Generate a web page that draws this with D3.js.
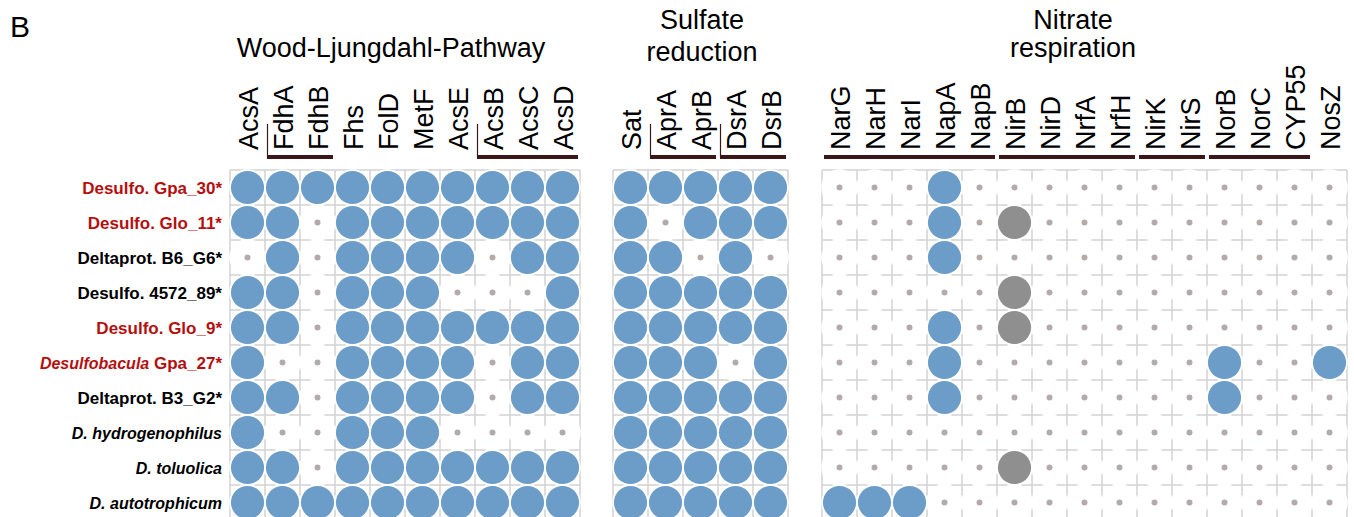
<!DOCTYPE html>
<html>
<head>
<meta charset="utf-8">
<script src="https://cdn.jsdelivr.net/npm/d3@7"></script>
<style>
  html, body { margin: 0; padding: 0; background: #fff; }
  svg { display: block; font-family: "Liberation Sans", Arial, Helvetica, sans-serif; }
</style>
</head>
<body>
<svg id="chart" width="1354" height="517"></svg>
<script>
// Genomes (rows), top to bottom
const species = [
  "Desulfo. Gpa_30*", "Desulfo. Glo_11*", "Deltaprot. B6_G6*", "Desulfo. 4572_89*",
  "Desulfo. Glo_9*", "Desulfobacula Gpa_27*", "Deltaprot. B3_G2*",
  "D. hydrogenophilus", "D. toluolica", "D. autotrophicum"
];
// label colour class: 1 = red (new genome), 0 = black
const speciesRed = [1, 1, 0, 0, 1, 1, 0, 0, 0, 0];
// italic part of each label ("" = none)
const speciesItalic = ["", "", "", "", "", "Desulfobacula", "", "D. hydrogenophilus", "D. toluolica", "D. autotrophicum"];

// Gene columns per pathway
const genesWL = ["AcsA", "FdhA", "FdhB", "Fhs", "FolD", "MetF", "AcsE", "AcsB", "AcsC", "AcsD"];
const genesSR = ["Sat", "AprA", "AprB", "DsrA", "DsrB"];
const genesNR = ["NarG", "NarH", "NarI", "NapA", "NapB", "NirB", "NirD", "NrfA", "NrfH",
                 "NirK", "NirS", "NorB", "NorC", "CYP55", "NosZ"];

// Presence per genome: 1 = present, 0 = absent, 2 = present (grey category)
const presenceWL = [
  [1,1,1,1,1,1,1,1,1,1],
  [1,1,0,1,1,1,1,1,1,1],
  [0,1,0,1,1,1,1,0,1,1],
  [1,1,0,1,1,1,0,0,0,1],
  [1,1,0,1,1,1,1,1,1,1],
  [1,0,0,1,1,1,1,0,1,1],
  [1,1,0,1,1,1,1,0,1,1],
  [1,0,0,1,1,1,0,0,0,0],
  [1,1,0,1,1,1,1,1,1,1],
  [1,1,1,1,1,1,1,1,1,1]
];
const presenceSR = [
  [1,1,1,1,1],
  [1,0,1,1,1],
  [1,1,0,1,0],
  [1,1,1,1,1],
  [1,1,1,1,1],
  [1,1,1,0,1],
  [1,1,1,1,1],
  [1,1,1,1,1],
  [1,1,1,1,1],
  [1,1,1,1,1]
];
const presenceNR = [
  [0,0,0,1,0,0,0,0,0,0,0,0,0,0,0],
  [0,0,0,1,0,2,0,0,0,0,0,0,0,0,0],
  [0,0,0,1,0,0,0,0,0,0,0,0,0,0,0],
  [0,0,0,0,0,2,0,0,0,0,0,0,0,0,0],
  [0,0,0,1,0,2,0,0,0,0,0,0,0,0,0],
  [0,0,0,1,0,0,0,0,0,0,0,1,0,0,1],
  [0,0,0,1,0,0,0,0,0,0,0,1,0,0,0],
  [0,0,0,0,0,0,0,0,0,0,0,0,0,0,0],
  [0,0,0,0,0,2,0,0,0,0,0,0,0,0,0],
  [1,1,1,0,0,0,0,0,0,0,0,0,0,0,0]
];

// Enzyme complexes underlined beneath the gene names: [first, last, bracket]
const groupsWL = [["FdhA", "FdhB", true], ["AcsB", "AcsD", true]];
const groupsSR = [["AprA", "AprB", true], ["DsrA", "DsrB", true]];
const groupsNR = [["NarG", "NapB", false], ["NirB", "NrfH", false], ["NirK", "NirS", false], ["NorB", "CYP55", false]];

const svg = d3.select("#chart");
const cell = 35;
const gridTop = 170;

const y = d3.scaleBand().domain(species).range([gridTop, gridTop + cell * species.length]);

const sections = [
  { genes: genesWL, data: presenceWL, groups: groupsWL, x0: 230, title: ["Wood-Ljungdahl-Pathway"], tx: 391, ty: [57] },
  { genes: genesSR, data: presenceSR, groups: groupsSR, x0: 613, title: ["Sulfate", "reduction"], tx: 702, ty: [29, 61] },
  { genes: genesNR, data: presenceNR, groups: groupsNR, x0: 822, title: ["Nitrate", "respiration"], tx: 1073, ty: [29, 57] }
];

const fillFor = { 1: "#6c9dc8", 2: "#8e8f8e" };
const gridColor = "#d2d2d2";

sections.forEach(sec => {
  const x = d3.scaleBand().domain(sec.genes).range([sec.x0, sec.x0 + cell * sec.genes.length]);
  const g = svg.append("g");
  const [xa, xb] = x.range();
  const [ya, yb] = y.range();

  // grid lines
  const grid = g.append("g").attr("stroke", gridColor).attr("stroke-width", 1.5);
  d3.range(sec.genes.length + 1).forEach(i => {
    const xx = xa + i * x.bandwidth();
    grid.append("line").attr("x1", xx).attr("x2", xx).attr("y1", ya).attr("y2", yb + 4);
  });
  d3.range(species.length + 1).forEach(j => {
    const yy = ya + j * y.bandwidth();
    grid.append("line").attr("x1", xa).attr("x2", xb).attr("y1", yy).attr("y2", yy);
  });

  const cells = [];
  sec.data.forEach((row, j) => row.forEach((v, i) => cells.push({ sp: species[j], gene: sec.genes[i], v })));

  // white halo behind every cell mark
  g.append("g").selectAll("circle").data(cells).join("circle")
    .attr("cx", d => x(d.gene) + x.bandwidth() / 2)
    .attr("cy", d => y(d.sp) + y.bandwidth() / 2)
    .attr("r", 18.3)
    .attr("fill", "#fff");

  g.append("g").selectAll("circle").data(cells).join("circle")
    .attr("cx", d => x(d.gene) + x.bandwidth() / 2)
    .attr("cy", d => y(d.sp) + y.bandwidth() / 2)
    .attr("r", d => d.v ? 16.6 : 3)
    .attr("fill", d => d.v ? fillFor[d.v] : "#b3abab");

  // gene names
  g.append("g").selectAll("text").data(sec.genes).join("text")
    .attr("transform", d => `translate(${x(d) + x.bandwidth() / 2 + 10},150) rotate(-90)`)
    .attr("font-size", 27)
    .attr("fill", "#000")
    .text(d => d);

  // complex underlines
  sec.groups.forEach(([a, b, bracket]) => {
    const x1 = x(a) + 2, x2 = x(b) + x.bandwidth() - 2;
    g.append("line").attr("x1", x1).attr("x2", x2).attr("y1", 157).attr("y2", 157)
      .attr("stroke", "#3a1818").attr("stroke-width", 4);
    if (bracket) {
      g.append("line").attr("x1", x1 + 0.5).attr("x2", x1 + 0.5).attr("y1", 124).attr("y2", 157)
        .attr("stroke", "#3a1818").attr("stroke-width", 1.2);
    }
  });

  // pathway title
  const t = g.append("text").attr("text-anchor", "middle").attr("font-size", 27).attr("fill", "#000");
  sec.title.forEach((line, k) => t.append("tspan").attr("x", sec.tx).attr("y", sec.ty[k]).text(line));
});

// genome labels
const labels = svg.append("g").attr("text-anchor", "end").attr("font-weight", "bold").attr("font-size", 17);
species.forEach((s, j) => {
  const t = labels.append("text")
    .attr("x", 222)
    .attr("y", y(s) + y.bandwidth() / 2 + 6)
    .attr("fill", speciesRed[j] ? "#b50f0f" : "#000");
  const it = speciesItalic[j];
  if (it && s.startsWith(it)) {
    t.append("tspan").attr("font-style", "italic").attr("font-size", 16).text(it);
    const rest = s.slice(it.length);
    if (rest) t.append("tspan").text(rest);
  } else {
    t.text(s);
  }
});

// panel letter
svg.append("text").attr("x", 10).attr("y", 37).attr("font-size", 30).attr("fill", "#000").text("B");
</script>
</body>
</html>
